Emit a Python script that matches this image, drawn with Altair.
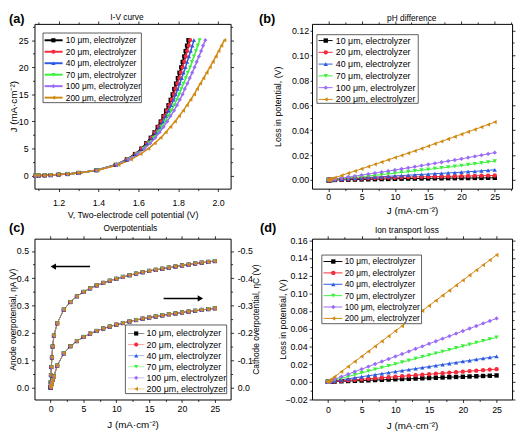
import altair as alt
import pandas as pd

# ---------------- data ----------------
J = [0, 0.01, 0.05, 0.1, 0.2, 0.3, 0.5, 1, 2, 3, 4, 5, 6, 7, 8, 9, 10, 11, 12, 13,
     14, 15, 16, 17, 18, 19, 20, 21, 22, 23, 24, 25]

SERIES = ["10 μm, electrolyzer", "20 μm, electrolyzer", "40 μm, electrolyzer",
          "70 μm, electrolyzer", "100 μm, electrolyzer", "200 μm, electrolyzer"]
COLORS = ["#000000", "#F52A3A", "#2B5BE0", "#3CF03C", "#9B6CF5", "#D08A12"]
SHAPES = ["square", "circle", "triangle-up", "triangle-down", "diamond", "triangle-left"]

# (a) cell voltage (V) for each J
V10 = [1.083, 1.10, 1.13, 1.16, 1.20, 1.245, 1.30, 1.39, 1.487, 1.542, 1.583, 1.615, 1.640, 1.662,
       1.681, 1.697, 1.712, 1.726, 1.739, 1.751, 1.762, 1.772, 1.780, 1.789, 1.798, 1.806, 1.815,
       1.822, 1.830, 1.837, 1.844, 1.851]
V20 = [1.083, 1.10, 1.13, 1.16, 1.20, 1.245, 1.30, 1.39, 1.488, 1.543, 1.585, 1.617, 1.643, 1.665,
       1.684, 1.701, 1.716, 1.730, 1.744, 1.756, 1.767, 1.778, 1.786, 1.795, 1.805, 1.813, 1.822,
       1.830, 1.838, 1.845, 1.853, 1.860]
V40 = [1.083, 1.10, 1.13, 1.16, 1.20, 1.245, 1.30, 1.391, 1.489, 1.545, 1.587, 1.621, 1.647, 1.670,
       1.690, 1.707, 1.723, 1.738, 1.752, 1.765, 1.777, 1.788, 1.798, 1.808, 1.818, 1.827, 1.837,
       1.845, 1.854, 1.863, 1.871, 1.879]
V70 = [1.083, 1.10, 1.13, 1.16, 1.20, 1.245, 1.30, 1.392, 1.491, 1.549, 1.592, 1.626, 1.653, 1.677,
       1.698, 1.717, 1.734, 1.750, 1.765, 1.780, 1.793, 1.805, 1.815, 1.827, 1.838, 1.848, 1.860,
       1.869, 1.879, 1.889, 1.898, 1.907]
V100 = [1.083, 1.10, 1.13, 1.16, 1.20, 1.245, 1.30, 1.393, 1.494, 1.552, 1.596, 1.631, 1.660, 1.685,
        1.707, 1.727, 1.745, 1.762, 1.779, 1.794, 1.808, 1.822, 1.833, 1.846, 1.858, 1.870, 1.882,
        1.893, 1.904, 1.915, 1.925, 1.936]
V200 = [1.083, 1.10, 1.13, 1.16, 1.20, 1.245, 1.30, 1.397, 1.501, 1.564, 1.612, 1.651, 1.683, 1.712,
        1.738, 1.761, 1.784, 1.805, 1.825, 1.844, 1.862, 1.880, 1.895, 1.911, 1.927, 1.943, 1.959,
        1.974, 1.989, 2.003, 2.017, 2.032]

# (b) pH-difference loss (V)
PH10 = [0, 0, 0, 0, 0, 0, 0.0001, 0.0001, 0.0002, 0.0003, 0.0004, 0.0005, 0.0006, 0.0007, 0.0008,
        0.0009, 0.001, 0.0011, 0.0012, 0.0012, 0.0013, 0.0013, 0.0014, 0.0014, 0.0015, 0.0015,
        0.0016, 0.0016, 0.0017, 0.0017, 0.0018, 0.0018]
PH20 = [0, 0, 0, 0, 0.0001, 0.0001, 0.0002, 0.0003, 0.0005, 0.0008, 0.001, 0.0012, 0.0014, 0.0016,
        0.0018, 0.002, 0.0021, 0.0023, 0.0024, 0.0025, 0.0026, 0.0027, 0.0028, 0.0029, 0.003,
        0.0031, 0.0032, 0.0033, 0.0034, 0.0035, 0.0036, 0.0037]
PH40 = [0, 0, 0, 0, 0.0001, 0.0001, 0.0002, 0.0004, 0.0007, 0.0011, 0.0014, 0.0017, 0.0021, 0.0024,
        0.0027, 0.003, 0.0033, 0.0036, 0.0039, 0.0042, 0.0045, 0.0048, 0.0051, 0.0054, 0.0057,
        0.006, 0.0063, 0.0067, 0.007, 0.0074, 0.0078, 0.0082]
PH70 = [0, 0, 0, 0.0001, 0.0001, 0.0002, 0.0003, 0.0005, 0.0011, 0.0016, 0.0022, 0.0027, 0.0033,
        0.0038, 0.0044, 0.0049, 0.0055, 0.0061, 0.0067, 0.0073, 0.0079, 0.0085, 0.0091, 0.0097,
        0.0103, 0.0109, 0.0116, 0.0123, 0.013, 0.0137, 0.0144, 0.0151]
PH100 = [0, 0, 0, 0.0001, 0.0002, 0.0002, 0.0004, 0.0008, 0.0016, 0.0024, 0.0032, 0.004, 0.0048,
         0.0056, 0.0064, 0.0072, 0.0081, 0.0089, 0.0098, 0.0107, 0.0116, 0.0125, 0.0134, 0.0143,
         0.0152, 0.0161, 0.017, 0.018, 0.019, 0.02, 0.021, 0.022]
PH200 = [0, 0, 0.0001, 0.0002, 0.0004, 0.0006, 0.001, 0.0019, 0.0037, 0.0055, 0.0072, 0.009, 0.0108,
         0.0126, 0.0144, 0.0162, 0.018, 0.0198, 0.0216, 0.0234, 0.0253, 0.0272, 0.0291, 0.031,
         0.0329, 0.0348, 0.0368, 0.0387, 0.0406, 0.0425, 0.0445, 0.0465]

# (c) anode / cathode overpotential magnitudes (V)
ETA_A = [0.0, 0.02, 0.045, 0.075, 0.11, 0.15, 0.19, 0.235, 0.285, 0.313, 0.334, 0.350, 0.363, 0.374,
         0.383, 0.391, 0.398, 0.405, 0.411, 0.417, 0.422, 0.427, 0.431, 0.435, 0.439, 0.443, 0.447,
         0.450, 0.454, 0.457, 0.460, 0.463]
ETA_C = [0.0, 0.003, 0.008, 0.012, 0.02, 0.028, 0.041, 0.08, 0.125, 0.151, 0.170, 0.185, 0.197, 0.207,
         0.216, 0.223, 0.230, 0.236, 0.242, 0.247, 0.252, 0.256, 0.260, 0.264, 0.268, 0.271, 0.275,
         0.278, 0.281, 0.284, 0.287, 0.290]

# (d) ion transport loss (V)
ION10 = [0, 0, 0, 0, 0.0001, 0.0001, 0.0001, 0.0003, 0.0006, 0.0009, 0.0011, 0.0014, 0.0017, 0.002,
         0.0023, 0.0026, 0.0029, 0.0032, 0.0034, 0.0037, 0.004, 0.0043, 0.0046, 0.0049, 0.0052,
         0.0055, 0.0057, 0.006, 0.0063, 0.0066, 0.0069, 0.0072]
ION20 = [0, 0, 0, 0.0001, 0.0001, 0.0002, 0.0003, 0.0006, 0.0011, 0.0017, 0.0023, 0.0029, 0.0034,
         0.004, 0.0046, 0.0052, 0.0057, 0.0063, 0.0069, 0.0075, 0.008, 0.0086, 0.0092, 0.0098,
         0.0103, 0.0109, 0.0115, 0.0121, 0.0126, 0.0132, 0.0138, 0.0143]
ION40 = [0, 0, 0.0001, 0.0001, 0.0002, 0.0003, 0.0006, 0.0011, 0.0023, 0.0034, 0.0046, 0.0057,
         0.0069, 0.008, 0.0092, 0.0103, 0.0115, 0.0126, 0.0138, 0.0149, 0.0161, 0.0172, 0.0184,
         0.0195, 0.0207, 0.0218, 0.023, 0.0241, 0.0253, 0.0264, 0.0276, 0.0287]
ION70 = [0, 0, 0.0001, 0.0002, 0.0004, 0.0006, 0.001, 0.002, 0.004, 0.006, 0.008, 0.01, 0.012,
         0.0141, 0.0161, 0.0181, 0.0201, 0.0221, 0.0241, 0.0261, 0.0281, 0.0301, 0.0321, 0.0341,
         0.0362, 0.0382, 0.0402, 0.0422, 0.0442, 0.0462, 0.0482, 0.0502]
ION100 = [0, 0, 0.0001, 0.0003, 0.0006, 0.0009, 0.0014, 0.0029, 0.0057, 0.0086, 0.0115, 0.0143,
          0.0172, 0.0201, 0.0229, 0.0258, 0.0287, 0.0315, 0.0344, 0.0373, 0.0401, 0.043, 0.0459,
          0.0488, 0.0516, 0.0545, 0.0574, 0.0602, 0.0631, 0.066, 0.0688, 0.0717]
ION200 = [0, 0.0001, 0.0003, 0.0006, 0.0011, 0.0017, 0.0029, 0.0057, 0.0115, 0.0172, 0.0229, 0.0287,
          0.0344, 0.0401, 0.0459, 0.0516, 0.0574, 0.0631, 0.0688, 0.0746, 0.0803, 0.086, 0.0918,
          0.0975, 0.1032, 0.109, 0.1147, 0.1204, 0.1262, 0.1319, 0.1376, 0.1434]

# arrows in (c): [x_start, x_head, y]
ARROW_L = [6.0, 0.4, 0.443]
ARROW_R = [17.2, 22.8, 0.326]

V_ALL = [V10, V20, V40, V70, V100, V200]
PH_ALL = [PH10, PH20, PH40, PH70, PH100, PH200]
ION_ALL = [ION10, ION20, ION40, ION70, ION100, ION200]
for arr in V_ALL + PH_ALL + ION_ALL + [ETA_A, ETA_C]:
    assert len(arr) == len(J)


def long_df(xs_list, ys_list, curve="m"):
    rows = []
    for si, s in enumerate(SERIES):
        for xv, yv in zip(xs_list[si], ys_list[si]):
            rows.append({"x": xv, "y": yv, "s": s, "c": curve + s})
    return rows


df_a = pd.DataFrame(long_df(V_ALL, [J] * 6))
df_b = pd.DataFrame(long_df([J] * 6, PH_ALL))
df_c = pd.DataFrame(long_df([J] * 6, [ETA_A] * 6, "a") + long_df([J] * 6, [ETA_C] * 6, "c"))
df_d = pd.DataFrame(long_df([J] * 6, ION_ALL))

ONE = alt.Data(values=[{"k": 1}])
JT = "J (mA·cm⁻²)"


def txt(text, x, y, size, align="left", baseline="middle", weight="normal"):
    return alt.Chart(ONE).mark_text(text=text, align=align, baseline=baseline, fontSize=size,
                                    fontWeight=weight, color="black").encode(
        x=alt.value(x), y=alt.value(y))


def legend_layers(L, ms):
    out = [alt.Chart(ONE).mark_rect(fill="white", stroke="#333333", strokeWidth=0.8).encode(
        x=alt.value(L["bx"][0]), x2=alt.value(L["bx"][1]),
        y=alt.value(L["by"][0]), y2=alt.value(L["by"][1]))]
    for i, s in enumerate(SERIES):
        yy = L["y0"] + L["dy"] * i
        out.append(alt.Chart(ONE).mark_rule(color=COLORS[i], strokeWidth=L["lw"], opacity=L["lo"]).encode(
            x=alt.value(L["lx"][0]), x2=alt.value(L["lx"][1]), y=alt.value(yy)))
        out.append(alt.Chart(ONE).mark_point(filled=True, shape=SHAPES[i], color=COLORS[i], size=ms,
                                             opacity=1).encode(x=alt.value(L["mx"]), y=alt.value(yy)))
        out.append(txt(s, L["tx"], yy, L["fs"]))
    return out


def panel(df, P):
    xs = alt.Scale(domain=P["xdom"], nice=False, zero=False)
    ys = alt.Scale(domain=P["ydom"], nice=False, zero=False)
    col = alt.Color("s:N", scale=alt.Scale(domain=SERIES, range=COLORS), legend=None)
    shp = alt.Shape("s:N", scale=alt.Scale(domain=SERIES, range=SHAPES), legend=None)
    base = alt.Chart(df)
    xax = alt.Axis(values=P["xticks"], format=P["xfmt"], title=P["xtitle"], tickSize=3,
                   labelPadding=P["xlp"], titleY=P["xty"], titleBaseline="middle",
                   titleFontSize=P["xtfs"], grid=False, domain=False, labelFlush=False,
                   labelOverlap=False)
    yax = alt.Axis(values=P["yticks"], format=P["yfmt"], title=P["ytitle"], tickSize=P["yts"],
                   labelPadding=P["ylp"], titleX=P["ytx"], titleBaseline="middle",
                   titleFontSize=P["ytfs"], grid=False, domain=False, labelFlush=False,
                   labelOverlap=False)
    lines = base.mark_line(strokeWidth=P["lw"], opacity=P["lo"]).encode(
        x=alt.X("x:Q", scale=xs, axis=xax), y=alt.Y("y:Q", scale=ys, axis=yax),
        color=col, detail="c:N")
    pts = base.mark_point(filled=True, size=P["ms"], opacity=1).encode(
        x=alt.X("x:Q", scale=xs, axis=None), y=alt.Y("y:Q", scale=ys, axis=None),
        color=col, shape=shp)
    if P.get("right"):
        R = P["right"]
        rax = alt.Axis(orient="right", values=P["yticks"], labelExpr=R["expr"], title=R["title"],
                       tickSize=3, labelPadding=R["lp"], titleX=R["tx"], titleAngle=270,
                       titleBaseline="middle", titleFontSize=R["fs"], grid=False, domain=False,
                       labelFlush=False, labelOverlap=False)
    else:
        rax = alt.Axis(orient="right", values=P["yticks"], labels=False, title=None, tickSize=3,
                       grid=False, domain=False)
    mirror = base.mark_point(opacity=0).encode(
        x=alt.X("x:Q", scale=xs, axis=alt.Axis(orient="top", values=P["xticks"], labels=False,
                                               title=None, tickSize=3, grid=False, domain=False)),
        y=alt.Y("y:Q", scale=ys, axis=rax))
    minor1 = base.mark_point(opacity=0).encode(
        x=alt.X("x:Q", scale=xs, axis=alt.Axis(orient="bottom", values=P["xminor"], labels=False,
                                               title=None, tickSize=2, grid=False, domain=False)),
        y=alt.Y("y:Q", scale=ys, axis=alt.Axis(orient="left", values=P["yminor"], labels=False,
                                               title=None, tickSize=2, grid=False, domain=False)))
    minor2 = base.mark_point(opacity=0).encode(
        x=alt.X("x:Q", scale=xs, axis=alt.Axis(orient="top", values=P["xminor"], labels=False,
                                               title=None, tickSize=2, grid=False, domain=False)),
        y=alt.Y("y:Q", scale=ys, axis=alt.Axis(orient="right", values=P["yminor"], labels=False,
                                               title=None, tickSize=2, grid=False, domain=False)))
    layers = [lines, pts, mirror, minor1, minor2]
    layers += P.get("extra", [])
    layers += legend_layers(P["leg"], P["ms"])
    layers.append(txt(P["title"][0], P["title"][1], P["title"][2], 8.5, align="center"))
    layers.append(txt(P["tag"][0], P["tag"][1], P["tag"][2], 13, baseline="top", weight="bold"))
    return alt.layer(*layers).resolve_axis(x="independent", y="independent").properties(
        width=P["w"], height=P["h"])


# arrows for (c)
arr_df = pd.DataFrame([{"x": ARROW_L[0], "x2": ARROW_L[1], "y": ARROW_L[2], "sh": "triangle-left"},
                       {"x": ARROW_R[0], "x2": ARROW_R[1], "y": ARROW_R[2], "sh": "triangle-right"}])
XS_C = alt.Scale(domain=[-2.46, 27.4], nice=False, zero=False)
YS_C = alt.Scale(domain=[-0.044, 0.545], nice=False, zero=False)
arrow_rule = alt.Chart(arr_df).mark_rule(color="black", strokeWidth=1.4).encode(
    x=alt.X("x:Q", scale=XS_C, axis=None), x2="x2:Q", y=alt.Y("y:Q", scale=YS_C, axis=None))
arrow_head = alt.Chart(arr_df).mark_point(filled=True, color="black", size=40, opacity=1).encode(
    x=alt.X("x2:Q", scale=XS_C, axis=None), y=alt.Y("y:Q", scale=YS_C, axis=None),
    shape=alt.Shape("sh:N", scale=None))

J_TICKS = [0, 5, 10, 15, 20, 25]
J_MINOR = [2.5, 7.5, 12.5, 17.5, 22.5]

PA = dict(w=200, h=168, xdom=[1.079, 2.063], ydom=[-2.4, 28.0],
          xticks=[1.2, 1.4, 1.6, 1.8, 2.0], xfmt=".1f", yticks=[0, 5, 10, 15, 20, 25], yfmt="d",
          xminor=[1.1, 1.3, 1.5, 1.7, 1.9], yminor=[2.5, 7.5, 12.5, 17.5, 22.5, 27.5],
          xlp=7, xty=26.3, xtitle="V, Two-electrode cell potential (V)", xtfs=9,
          yts=3, ylp=3.5, ytx=-21, ytitle=JT, ytfs=10, lw=1.5, lo=1, ms=18,
          leg=dict(bx=[8.7, 109], by=[9.3, 80.3], y0=16.7, dy=11.7, lx=[10.3, 28.7], mx=19.3,
                   tx=32, fs=8.5, lw=2, lo=1),
          title=["I-V curve", 94.3, -7], tag=["(a)", -26, -11])
PB = dict(w=204, h=168, xdom=[-2.45, 27.6], ydom=[-0.0069, 0.1253],
          xticks=J_TICKS, xfmt="d", yticks=[0, 0.02, 0.04, 0.06, 0.08, 0.10, 0.12], yfmt=".2f",
          xminor=J_MINOR + [27.5], yminor=[0.01, 0.03, 0.05, 0.07, 0.09, 0.11],
          xlp=1, xty=22.3, xtitle=JT, xtfs=10, yts=2, ylp=1.5, ytx=-35,
          ytitle="Loss in potential, (V)", ytfs=9, lw=1, lo=1, ms=20,
          leg=dict(bx=[5, 108.3], by=[11, 81], y0=17, dy=12, lx=[6.7, 21], mx=14, tx=24.3,
                   fs=9, lw=1, lo=1),
          title=["pH difference", 101.7, -6], tag=["(b)", -54, -11])
PC = dict(w=200, h=164, xdom=[-2.46, 27.4], ydom=[-0.044, 0.545],
          xticks=J_TICKS, xfmt="d", yticks=[0, 0.1, 0.2, 0.3, 0.4, 0.5], yfmt=".1f",
          xminor=J_MINOR, yminor=[0.05, 0.15, 0.25, 0.35, 0.45],
          xlp=2, xty=25.3, xtitle=JT, xtfs=10, yts=3, ylp=3, ytx=-22,
          ytitle="Anode overpotential, ηA (V)", ytfs=8.5, lw=1, lo=0.55, ms=18,
          right=dict(expr="datum.value == 0 ? '0.0' : '-' + format(datum.value, '.1f')",
                     title="Cathode overpotential, ηC (V)", lp=3.7, tx=25, fs=8.5),
          extra=[arrow_rule, arrow_head],
          leg=dict(bx=[92.7, 196], by=[88, 158], y0=96.7, dy=11.3, lx=[95.3, 112], mx=103.7,
                   tx=114.3, fs=9, lw=1, lo=0.45),
          title=["Overpotentials", 97.7, -10.7], tag=["(c)", -26, -17])
PD = dict(w=204, h=164, xdom=[-2.35, 27.3], ydom=[-0.02, 0.1618],
          xticks=J_TICKS, xfmt="d",
          yticks=[-0.02, 0, 0.02, 0.04, 0.06, 0.08, 0.10, 0.12, 0.14, 0.16], yfmt=".2f",
          xminor=J_MINOR, yminor=[-0.01, 0.01, 0.03, 0.05, 0.07, 0.09, 0.11, 0.13, 0.15],
          xlp=3.5, xty=26.7, xtitle=JT, xtfs=10, yts=3, ylp=2, ytx=-30,
          ytitle="Loss in potential, (V)", ytfs=9, lw=1, lo=1, ms=20,
          leg=dict(bx=[10, 111.7], by=[16.7, 86.7], y0=23.3, dy=11.6, lx=[11.7, 31], mx=21.7,
                   tx=33.3, fs=8.5, lw=1, lo=1),
          title=["Ion transport loss", 96.7, -8.3], tag=["(d)", -53, -17])

chart = alt.concat(panel(df_a, PA), panel(df_b, PB), panel(df_c, PC), panel(df_d, PD),
                   columns=2, spacing={"row": 51, "column": 83}, bounds="flush").properties(
    padding=0
).configure(font="Liberation Sans").configure_view(stroke="black", strokeWidth=1).configure_axis(
    labelFontSize=9, titleFontSize=10, labelColor="black", titleColor="black", tickColor="black",
    tickWidth=0.8, titleFontWeight="normal")

chart.save("out.html", embed_options={"renderer": "svg", "actions": False})
